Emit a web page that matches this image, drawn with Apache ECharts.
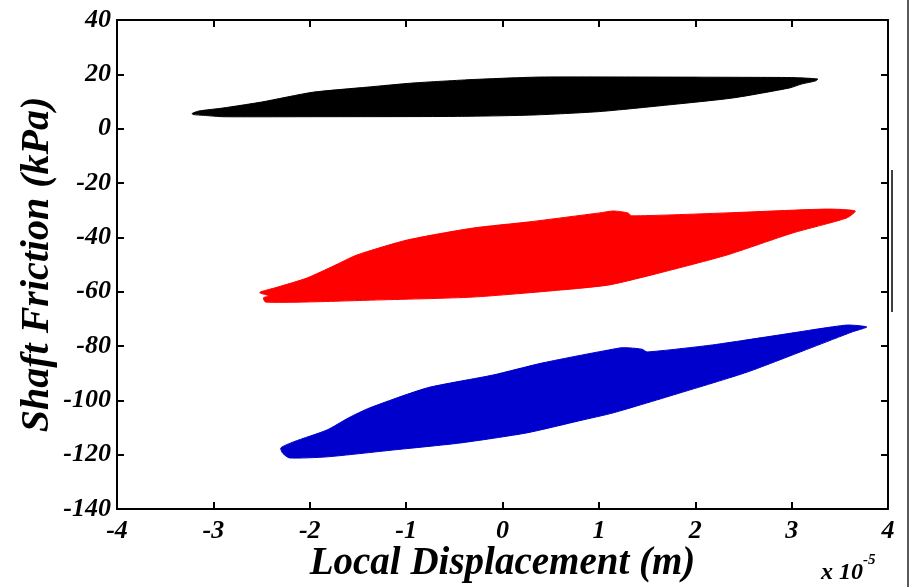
<!DOCTYPE html>
<html>
<head>
<meta charset="utf-8">
<script src="https://cdn.jsdelivr.net/npm/echarts@6/dist/echarts.min.js"></script>
<style>html,body{margin:0;padding:0;background:#fff;}#c{width:911px;height:587px;}</style>
</head>
<body>
<div id="c"></div>
<script>
// x in units of 1e-5 m, y in kPa
const xTicks = [-4, -3, -2, -1, 0, 1, 2, 3, 4];
const yTicks = [-140, -120, -100, -80, -60, -40, -20, 0, 20, 40];

const blackUpper = [[-3.22,5.6],[-3.15,6.5],[-2.9,7.6],[-2.5,9.8],[-1.97,13.4],[-1.4,15.3],[-0.93,16.8],[-0.3,18.1],[0.39,19.0],[1.5,19.0],[2.5,18.9],[3.0,18.8],[3.27,18.3]];
const blackLower = [[3.25,17.6],[3.1,16.4],[2.98,15.0],[2.39,11.3],[1.71,8.7],[1.01,6.3],[0.3,5.0],[-0.5,4.5],[-2.0,4.4],[-2.9,4.4],[-3.1,4.9],[-3.21,5.2]];

const redUpper = [[-2.52,-60.3],[-2.35,-58.5],[-2.03,-55.0],[-1.75,-50.5],[-1.51,-46.5],[-0.99,-41.0],[-0.31,-36.6],[0.28,-34.3],[1.01,-31.0],[1.15,-30.3],[1.3,-31.0],[1.34,-32.1],[2.33,-31.0],[3.37,-29.6],[3.66,-30.3]];
const redLower = [[3.57,-32.9],[3.01,-38.4],[2.33,-46.5],[1.63,-53.1],[1.11,-57.5],[0.6,-59.4],[-0.31,-62.0],[-1.34,-63.1],[-2.03,-63.8],[-2.46,-63.8],[-2.48,-62.2],[-2.42,-61.6]];

const blueUpper = [[-2.30,-117.5],[-2.17,-115.3],[-1.82,-110.9],[-1.6,-106.5],[-1.38,-102.8],[-0.78,-95.4],[-0.10,-90.7],[0.42,-86.2],[1.22,-80.7],[1.32,-80.7],[1.45,-81.2],[1.50,-82.2],[2.18,-79.6],[2.88,-75.9],[3.57,-72.3],[3.78,-73.0]];
const blueLower = [[3.63,-74.8],[3.22,-80.4],[2.54,-89.6],[1.84,-97.3],[1.15,-104.6],[0.8,-107.5],[0.25,-112.0],[-0.44,-115.7],[-1.14,-118.3],[-1.82,-120.8],[-2.21,-121.2],[-2.28,-119.5]];

const loops = [
  {name: 'black', color: '#000000', pts: blackUpper.concat(blackLower)},
  {name: 'red', color: '#ff0000', pts: redUpper.concat(redLower)},
  {name: 'blue', color: '#0000cc', pts: blueUpper.concat(blueLower)}
];

const FONT = '"Liberation Serif", "Times New Roman", serif';
const chart = echarts.init(document.getElementById('c'));

function axisCommon() {
  return {
    axisLine: {show: true, onZero: false, lineStyle: {color: '#000', width: 2}},
    axisTick: {show: true, inside: true, length: 7, lineStyle: {color: '#000', width: 2}},
    splitLine: {show: false}
  };
}

chart.setOption({
  animation: false,
  backgroundColor: '#fff',
  grid: {left: 117, right: 23, top: 20, bottom: 78, containLabel: false, outerBoundsMode: 'none'},
  xAxis: [
    Object.assign({
      type: 'value', min: xTicks[0], max: xTicks[xTicks.length-1], interval: 1, position: 'bottom',
      axisLabel: {color: '#000', fontFamily: FONT, fontWeight: 'bold', fontStyle: 'italic', fontSize: 26, margin: 9},
      name: 'Local Displacement (m)', nameLocation: 'middle', nameGap: 35, nameMoveOverlap: false,
      nameTextStyle: {color: '#000', fontFamily: FONT, fontWeight: 'bold', fontStyle: 'italic', fontSize: 39}
    }, axisCommon()),
    Object.assign({
      type: 'value', min: xTicks[0], max: xTicks[xTicks.length-1], interval: 1, position: 'top',
      axisLabel: {show: false}
    }, axisCommon())
  ],
  yAxis: [
    Object.assign({
      type: 'value', min: yTicks[0], max: yTicks[yTicks.length-1], interval: 20, position: 'left',
      axisLabel: {color: '#000', fontFamily: FONT, fontWeight: 'bold', fontStyle: 'italic', fontSize: 26, margin: 6},
      name: 'Shaft Friction (kPa)', nameLocation: 'middle', nameGap: 59, nameRotate: 90, nameMoveOverlap: false,
      nameTextStyle: {color: '#000', fontFamily: FONT, fontWeight: 'bold', fontStyle: 'italic', fontSize: 40}
    }, axisCommon()),
    Object.assign({
      type: 'value', min: yTicks[0], max: yTicks[yTicks.length-1], interval: 20, position: 'right',
      axisLabel: {show: false}
    }, axisCommon())
  ],
  graphic: [
    {type: 'text', left: 821, top: 553, style: {
      text: '{a|x 10}{b|-5}',
      rich: {
        a: {fontFamily: FONT, fontWeight: 'bold', fontStyle: 'italic', fontSize: 24, fill: '#000', verticalAlign: 'bottom', padding: [8,0,0,0]},
        b: {fontFamily: FONT, fontWeight: 'bold', fontStyle: 'italic', fontSize: 15, fill: '#000', verticalAlign: 'top', padding: [0,0,12,0]}
      }
    }},
    {type: 'line', shape: {x1: 892, y1: 170, x2: 892, y2: 312}, style: {stroke: '#000', lineWidth: 1.5}},
    {type: 'line', shape: {x1: 908, y1: 0, x2: 908, y2: 587}, style: {stroke: '#222', lineWidth: 1.5}}
  ],
  series: loops.map(function (lp) {
    return {
      type: 'custom', name: lp.name, coordinateSystem: 'cartesian2d',
      data: lp.pts,
      encode: {x: 0, y: 1},
      renderItem: function (params, api) {
        if (params.dataIndex !== 0) return null;
        const points = lp.pts.map(function (p) { return api.coord(p); });
        return {type: 'polygon', shape: {points: points, smooth: 0.2}, style: {fill: lp.color, stroke: lp.color, lineWidth: 1}};
      }
    };
  })
});
</script>
</body>
</html>
